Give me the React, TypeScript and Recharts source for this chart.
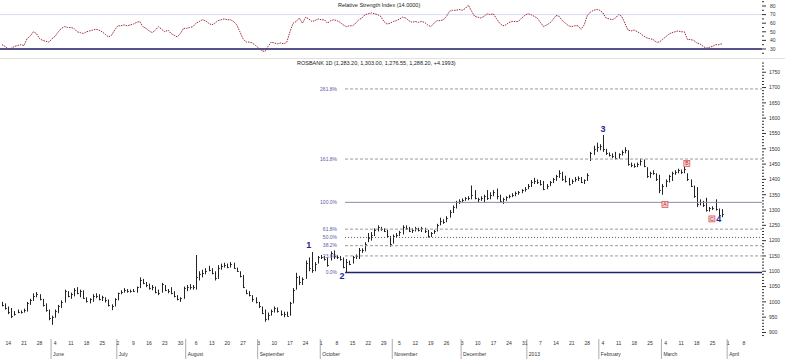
import React from "react";
import { Bar, ComposedChart, Line, ReferenceLine, Scatter, XAxis, YAxis } from "recharts";

// daily bars, first bar = Thu 10 May 2012 (open not shown)
const highs = [
  1000, 995, 985, 980, 970, 975, 972, 978, 1000, 1010,
  1028, 1032, 1025, 1010, 995, 975, 955, 975, 990, 1005,
  1040, 1035, 1030, 1045, 1048, 1040, 1038, 1015, 1012, 1025,
  1028, 1025, 1020, 1015, 1008, 992, 1012, 1030, 1038, 1045,
  1042, 1040, 1042, 1050, 1080, 1075, 1065, 1060, 1055, 1050,
  1040, 1062, 1055, 1042, 1048, 1035, 1022, 1015, 1050, 1055,
  1058, 1055, 1153, 1100, 1105, 1110, 1118, 1110, 1100, 1120,
  1125, 1128, 1125, 1130, 1128, 1112, 1100, 1088, 1040, 1035,
  1022, 1015, 1000, 985, 975, 965, 975, 985, 982, 972,
  968, 968, 1000, 1045, 1095, 1085, 1080, 1135, 1145, 1163,
  1130, 1150, 1153, 1150, 1145, 1165, 1168, 1152, 1150, 1145,
  1140, 1135, 1150, 1155, 1176, 1175, 1195, 1225, 1228, 1240,
  1250, 1245, 1240, 1235, 1215, 1220, 1225, 1232, 1250, 1250,
  1245, 1240, 1245, 1242, 1245, 1242, 1235, 1228, 1235, 1255,
  1275, 1270, 1280, 1300, 1315, 1330, 1335, 1338, 1342, 1345,
  1380, 1365, 1340, 1345, 1350, 1365, 1358, 1365, 1370, 1350,
  1340, 1345, 1350, 1355, 1360, 1362, 1368, 1375, 1385, 1398,
  1405, 1400, 1398, 1395, 1385, 1395, 1405, 1415, 1430, 1425,
  1412, 1405, 1400, 1408, 1410, 1408, 1400, 1420, 1490, 1510,
  1520, 1515, 1545, 1500, 1488, 1485, 1490, 1485, 1495, 1505,
  1495, 1455, 1452, 1455, 1468, 1465, 1440, 1425, 1430, 1420,
  1415, 1385, 1400, 1415, 1425, 1430, 1435, 1432, 1442, 1420,
  1400, 1380, 1375, 1335, 1330, 1340, 1310, 1312, 1335, 1305,
  1303,
];
const lows = [
  985, 975, 960, 947, 955, 963, 962, 965, 968, 990,
  1003, 1015, 1005, 985, 968, 940, 925, 948, 963, 980,
  998, 1015, 1010, 1018, 1025, 1015, 1010, 998, 995, 1000,
  1012, 1005, 1003, 998, 985, 973, 985, 1005, 1025, 1030,
  1030, 1030, 1032, 1030, 1045, 1058, 1048, 1040, 1038, 1028,
  1022, 1030, 1035, 1028, 1025, 1015, 1005, 1000, 1010, 1035,
  1040, 1040, 1040, 1070, 1080, 1090, 1100, 1090, 1070, 1075,
  1105, 1112, 1110, 1112, 1108, 1098, 1080, 1045, 1025, 1018,
  1000, 995, 980, 960, 935, 940, 955, 965, 965, 955,
  950, 952, 955, 995, 1040, 1055, 1055, 1075, 1100, 1095,
  1100, 1125, 1140, 1135, 1115, 1135, 1140, 1140, 1135, 1110,
  1096, 1120, 1125, 1140, 1140, 1160, 1165, 1195, 1200, 1215,
  1230, 1232, 1228, 1210, 1180, 1190, 1210, 1215, 1220, 1235,
  1228, 1225, 1230, 1230, 1228, 1225, 1210, 1212, 1222, 1230,
  1250, 1255, 1260, 1275, 1290, 1305, 1320, 1325, 1330, 1332,
  1335, 1335, 1325, 1330, 1325, 1333, 1335, 1345, 1335, 1325,
  1320, 1330, 1338, 1342, 1345, 1350, 1355, 1360, 1368, 1375,
  1385, 1385, 1380, 1365, 1368, 1378, 1388, 1395, 1405, 1395,
  1390, 1380, 1385, 1392, 1395, 1388, 1385, 1395, 1460, 1480,
  1490, 1495, 1490, 1480, 1475, 1470, 1465, 1468, 1478, 1485,
  1445, 1440, 1438, 1440, 1445, 1440, 1405, 1405, 1415, 1395,
  1355, 1350, 1375, 1390, 1395, 1415, 1420, 1418, 1420, 1395,
  1375, 1340, 1310, 1315, 1310, 1295, 1295, 1300, 1298, 1280,
  1276.55,
];
const closes = [
  990, 980, 968, 955, 962, 968, 966, 975, 995, 1005,
  1020, 1025, 1008, 990, 972, 948, 950, 970, 985, 1000,
  1035, 1020, 1025, 1040, 1030, 1035, 1012, 1002, 1008, 1020,
  1018, 1010, 1015, 1005, 990, 985, 1008, 1028, 1032, 1040,
  1035, 1036, 1035, 1048, 1072, 1062, 1055, 1045, 1048, 1032,
  1030, 1058, 1040, 1035, 1030, 1020, 1010, 1012, 1045, 1050,
  1048, 1050, 1080, 1090, 1095, 1100, 1105, 1095, 1078, 1112,
  1118, 1120, 1115, 1125, 1112, 1100, 1085, 1050, 1030, 1022,
  1008, 1000, 985, 965, 945, 958, 970, 980, 970, 960,
  962, 955, 995, 1040, 1080, 1065, 1075, 1128, 1110, 1105,
  1125, 1145, 1148, 1140, 1120, 1160, 1150, 1145, 1140, 1115,
  1130, 1125, 1145, 1150, 1170, 1168, 1190, 1210, 1220, 1235,
  1245, 1238, 1232, 1215, 1190, 1215, 1220, 1228, 1245, 1240,
  1232, 1235, 1240, 1235, 1240, 1230, 1215, 1225, 1230, 1250,
  1265, 1262, 1275, 1295, 1310, 1325, 1330, 1332, 1338, 1340,
  1350, 1340, 1335, 1338, 1345, 1340, 1350, 1360, 1345, 1330,
  1335, 1342, 1345, 1350, 1355, 1358, 1365, 1370, 1380, 1390,
  1395, 1390, 1385, 1370, 1380, 1390, 1400, 1410, 1420, 1400,
  1395, 1385, 1395, 1400, 1405, 1392, 1398, 1415, 1485, 1500,
  1505, 1510, 1500, 1485, 1480, 1478, 1470, 1482, 1490, 1495,
  1450, 1448, 1445, 1450, 1460, 1445, 1410, 1420, 1420, 1400,
  1365, 1380, 1395, 1410, 1420, 1425, 1430, 1425, 1435, 1400,
  1380, 1345, 1320, 1325, 1315, 1300, 1305, 1308, 1302, 1284,
  1288.2,
];
const rsi14 = [
  35, 33, 30, 31, 33, 34, 35, 34, 42, 45,
  50, 48, 42, 40, 39, 38, 42, 45, 50, 54,
  56, 55, 55, 54, 50, 49, 48, 50, 51, 52,
  53, 52, 50, 47, 44, 46, 52, 57, 57, 58,
  57, 58, 59, 61, 62, 56, 54, 51, 49, 52,
  56, 53, 50, 52, 48, 46, 44, 48, 54, 54,
  55, 56, 60, 62, 64, 63, 60, 58, 60, 63,
  64, 65, 64, 64, 62, 58, 50, 42, 38, 38,
  37, 34, 31, 28, 27, 33, 38, 37, 36, 37,
  36, 38, 50, 60, 62, 66, 60, 67, 65, 62,
  63, 65, 64, 64, 60, 63, 64, 63, 61, 58,
  56, 57, 57, 60, 64, 66, 70, 71, 72, 71,
  70, 68, 62, 59, 60, 62, 63, 65, 67, 66,
  63, 61, 62, 61, 62, 61, 58, 56, 60, 63,
  63, 64, 68, 74, 75, 75, 76, 75, 77, 81,
  74, 68, 67, 66, 68, 71, 70, 71, 65, 60,
  57, 58, 61, 62, 62, 62, 66, 69, 71, 70,
  68, 66, 61, 56, 58, 60, 64, 69, 68, 63,
  60, 57, 56, 57, 57, 53, 58, 69, 73, 75,
  76, 75, 72, 66, 65, 64, 66, 70, 68, 60,
  52, 51, 52, 50, 48, 45, 43, 42, 41, 38,
  38, 41, 44, 47, 49, 50, 51, 50, 50, 41,
  41, 40, 37, 36, 33, 31, 32, 33, 35, 35,
  36,
];

// Monday ticks, 14 May 2012 .. 8 Apr 2013
const dayLabels = [
  "14", "21", "28", "4", "11", "18", "25", "2", "9", "16", "23", "30",
  "6", "13", "20", "27", "3", "10", "17", "24", "1", "8", "15", "22", "29",
  "5", "12", "19", "26", "3", "10", "17", "24", "31", "7", "14", "21", "28",
  "4", "11", "18", "25", "4", "11", "18", "25", "1", "8",
];
const monthLabels = ["June", "July", "August", "September", "October", "November", "December", "2013", "February", "March", "April"];
const monthStartBars = [16, 37, 59, 82, 102, 125, 147, 168, 191, 211, 232];

const fibRatios = [0, 0.236, 0.382, 0.5, 0.618, 1, 1.618, 2.618];
const fibNames = ["0.0%", "23.6%", "38.2%", "50.0%", "61.8%", "100.0%", "161.8%", "261.8%"];
const fibLow = 1096;
const fibHigh = 1325;
const fibStartBar = 109.6;

const waveNames = ["1", "2", "3", "4"];
const waveBars = [98, 108.6, 192, 229];
const wavePrices = [1187, 1084, 1566, 1271];

const abcNames = ["A", "B", "C"];
const abcBars = [211.8, 218.8, 226.8];
const abcPrices = [1318, 1452, 1271];

const X_DOMAIN: [number, number] = [-0.64, 242.81];
const FONT = "'Liberation Sans', Arial, sans-serif";

const rows = highs.map((h, i) => ({ t: i, range: [lows[i], h], close: closes[i], rsi: rsi14[i] }));
const dayTicks = dayLabels.map((_, k) => 2 + 5 * k);
const priceTicks: number[] = [];
for (let v = 890; v <= 1780; v += 10) priceTicks.push(v);
const rsiTicks = [25, 30, 35, 40, 45, 50, 55, 60, 65, 70, 75, 80, 85];

const fibRows = fibRatios.map((r, i) => ({ t: fibStartBar, v: fibLow + r * (fibHigh - fibLow), name: fibNames[i], r }));
const waveRows = waveNames.map((n, i) => ({ t: waveBars[i], v: wavePrices[i], name: n }));
const abcRows = abcNames.map((n, i) => ({ t: abcBars[i], v: abcPrices[i], name: n }));

function HlcBar(props: any) {
  const { x, y, width, height, payload } = props;
  if (x == null || y == null || !payload) return null;
  const top = Math.min(y, y + height);
  const bot = Math.max(y, y + height, top + 1);
  const [lo, hi] = payload.range;
  const cx = Math.round(x + width / 2) + 0.5;
  const cy = hi > lo ? top + ((hi - payload.close) / (hi - lo)) * (bot - top) : top;
  const ty = Math.round(cy) + 0.5;
  return (
    <g stroke="#222" strokeWidth={1}>
      <line x1={cx} x2={cx} y1={top} y2={bot} />
      <line x1={cx} x2={cx + 1.5} y1={ty} y2={ty} strokeWidth={0.8} />
    </g>
  );
}

function PriceTick({ x, y, payload }: any) {
  const v = payload.value;
  const major = v % 50 === 0;
  return (
    <g>
      <line x1={x} x2={x + (major ? 4 : 2)} y1={y} y2={y} stroke="#333" />
      {major && (
        <text x={x + 7} y={y + 1.8} fontSize={5} fill="#333" fontFamily={FONT}>
          {v}
        </text>
      )}
    </g>
  );
}

function RsiTick({ x, y, payload }: any) {
  const v = payload.value;
  const major = v % 10 === 0;
  return (
    <g>
      <line x1={x} x2={x + (major ? 4 : 2)} y1={y} y2={y} stroke="#333" />
      {major && (
        <text x={x + 8} y={y + 1.8} fontSize={5} fill="#333" fontFamily={FONT}>
          {v}
        </text>
      )}
    </g>
  );
}

function DayTick({ x, y, index }: any) {
  return (
    <text x={x} y={y + 7} textAnchor="middle" fontSize={5} fill="#333" fontFamily={FONT}>
      {dayLabels[index]}
    </text>
  );
}

function MonthTick({ x, y, index }: any) {
  return (
    <g>
      <line x1={x - 1} x2={x - 1} y1={y - 9} y2={y + 11} stroke="#888" strokeWidth={0.7} />
      <text x={x + 1} y={y + 8} fontSize={5} fill="#333" fontFamily={FONT}>
        {monthLabels[index]}
      </text>
    </g>
  );
}

function FibLabel({ cx, cy, payload }: any) {
  return (
    <text x={cx - 8} y={cy + 1.8} textAnchor="end" fontSize={5} fill="#5a5aa8" fontFamily={FONT}>
      {payload.name}
    </text>
  );
}

function WaveLabel({ cx, cy, payload }: any) {
  return (
    <text x={cx} y={cy + 3.2} textAnchor="middle" fontSize={9} fontWeight="bold" fill="#27279a" fontFamily={FONT}>
      {payload.name}
    </text>
  );
}

function AbcLabel({ cx, cy, payload }: any) {
  return (
    <g>
      <rect x={cx - 3} y={cy - 3} width={6} height={6} fill="#f6d2d2" stroke="#d04848" strokeWidth={0.7} />
      <text x={cx} y={cy + 1.8} textAnchor="middle" fontSize={5} fill="#c02828" fontFamily={FONT}>
        {payload.name}
      </text>
    </g>
  );
}

function fibStyle(r: number) {
  if (r === 0) return { stroke: "#202070", strokeWidth: 1.5 };
  if (r === 1) return { stroke: "#8a8aaa", strokeWidth: 1 };
  if (r === 0.5) return { stroke: "#555", strokeWidth: 1, strokeDasharray: "1 2" };
  return { stroke: "#999", strokeWidth: 1, strokeDasharray: "3 2" };
}

export default function App() {
  return (
    <div style={{ position: "absolute", left: 0, top: 0, width: 785, height: 360, background: "#fff", overflow: "hidden" }}>
      {/* RSI panel */}
      <div style={{ position: "absolute", left: 0, top: 0 }}>
        <ComposedChart width={785} height={58} data={rows} margin={{ top: 0, right: 0, bottom: 0, left: 0 }}>
          <XAxis dataKey="t" type="number" domain={X_DOMAIN} allowDataOverflow hide />
          <YAxis
            orientation="right"
            width={23}
            domain={[19.5, 87]}
            allowDataOverflow
            ticks={rsiTicks}
            interval={0}
            tick={<RsiTick />}
            tickLine={false}
            axisLine={false}
            tickSize={0}
            tickMargin={0}
          />
          <ReferenceLine y={70} stroke="#dcdcf2" />
          <ReferenceLine y={30} stroke="#1d1d66" strokeWidth={1.5} />
          <Line
            dataKey="rsi"
            stroke="#a0283a"
            strokeWidth={1}
            strokeDasharray="1.5 1"
            dot={false}
            activeDot={false}
            isAnimationActive={false}
          />
        </ComposedChart>
      </div>

      <div style={{ position: "absolute", left: 0, top: 58, width: 785, height: 1, background: "#e0e0e0" }} />

      {/* price panel */}
      <div style={{ position: "absolute", left: 0, top: 58 }}>
        <ComposedChart width={785} height={302} data={rows} margin={{ top: 2, right: 0, bottom: 0, left: 0 }}>
          <XAxis
            xAxisId="d"
            dataKey="t"
            type="number"
            domain={X_DOMAIN}
            allowDataOverflow
            ticks={dayTicks}
            interval={0}
            height={10}
            tick={<DayTick />}
            tickLine={false}
            axisLine={false}
            tickSize={0}
            tickMargin={0}
          />
          <XAxis
            xAxisId="m"
            dataKey="t"
            type="number"
            domain={X_DOMAIN}
            allowDataOverflow
            ticks={monthStartBars}
            interval={0}
            height={12}
            tick={<MonthTick />}
            tickLine={false}
            axisLine={false}
            tickSize={0}
            tickMargin={0}
          />
          <YAxis
            orientation="right"
            width={23}
            domain={[882, 1790]}
            allowDataOverflow
            ticks={priceTicks}
            interval={0}
            tick={<PriceTick />}
            tickLine={false}
            axisLine={false}
            tickSize={0}
            tickMargin={0}
          />
          {fibRows.map((f) => (
            <ReferenceLine
              key={f.name}
              xAxisId="d"
              segment={[
                { x: fibStartBar, y: f.v },
                { x: X_DOMAIN[1], y: f.v },
              ]}
              {...fibStyle(f.r)}
            />
          ))}
          <Bar xAxisId="d" dataKey="range" barSize={2} shape={<HlcBar />} activeBar={false} isAnimationActive={false} />
          <Scatter xAxisId="d" data={fibRows} dataKey="v" shape={<FibLabel />} isAnimationActive={false} />
          <Scatter xAxisId="d" data={waveRows} dataKey="v" shape={<WaveLabel />} isAnimationActive={false} />
          <Scatter xAxisId="d" data={abcRows} dataKey="v" shape={<AbcLabel />} isAnimationActive={false} />
        </ComposedChart>
      </div>

      {/* panel titles */}
      <svg width={785} height={70} style={{ position: "absolute", left: 0, top: 0, pointerEvents: "none" }}>
        <text x={338} y={7} fontSize={5.5} fill="#222" fontFamily={FONT}>
          Relative Strength Index (14.0000)
        </text>
        <text x={297} y={64.5} fontSize={5.5} fill="#222" fontFamily={FONT}>
          ROSBANK 1D (1,283.20, 1,303.00, 1,276.55, 1,288.20, +4.1993)
        </text>
      </svg>
    </div>
  );
}
